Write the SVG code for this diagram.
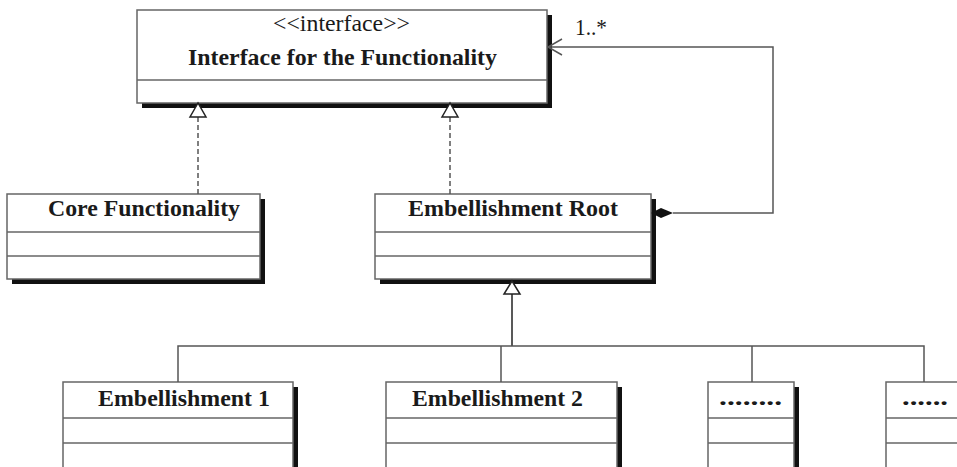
<svg xmlns="http://www.w3.org/2000/svg" width="957" height="467" viewBox="0 0 957 467">
<style>
.box{fill:#fff;stroke:#666;stroke-width:1.5}
.sh{fill:#111}
.div{stroke:#666;stroke-width:1.5}
.t{font-family:"Liberation Serif","Times New Roman",serif;font-size:23px;fill:#1a1a1a}
.b{font-weight:bold}
.ln{fill:none;stroke:#555;stroke-width:1.5}
.dash{stroke-dasharray:5,3}
.tri{fill:#fff;stroke:#222;stroke-width:1.5}
</style>
<rect width="957" height="467" fill="#fff"/>
<g id="interface">
<rect class="sh" x="142" y="15" width="410" height="93"/>
<rect class="box" x="137" y="10" width="410" height="93"/>
<line class="div" x1="137" y1="80" x2="547" y2="80"/>
<text class="t" x="273" y="31" textLength="137" lengthAdjust="spacingAndGlyphs">&lt;&lt;interface&gt;&gt;</text>
<text class="t b" x="188" y="65" textLength="309" lengthAdjust="spacingAndGlyphs">Interface for the Functionality</text>
</g>
<g id="core">
<rect class="sh" x="12" y="199" width="253" height="85"/>
<rect class="box" x="7" y="194" width="253" height="85"/>
<line class="div" x1="7" y1="232" x2="260" y2="232"/>
<line class="div" x1="7" y1="256" x2="260" y2="256"/>
<text class="t b" x="48" y="216" textLength="192" lengthAdjust="spacingAndGlyphs">Core Functionality</text>
</g>
<g id="root">
<rect class="sh" x="380" y="199" width="276" height="85"/>
<rect class="box" x="375" y="194" width="276" height="85"/>
<line class="div" x1="375" y1="232" x2="651" y2="232"/>
<line class="div" x1="375" y1="256" x2="651" y2="256"/>
<text class="t b" x="408" y="216" textLength="210" lengthAdjust="spacingAndGlyphs">Embellishment Root</text>
</g>
<g id="emb1">
<rect class="sh" x="68" y="387" width="230" height="100"/>
<rect class="box" x="63" y="382" width="230" height="100"/>
<line class="div" x1="63" y1="418" x2="293" y2="418"/>
<line class="div" x1="63" y1="443" x2="293" y2="443"/>
<text class="t b" x="98" y="406" textLength="172" lengthAdjust="spacingAndGlyphs">Embellishment 1</text>
</g>
<g id="emb2">
<rect class="sh" x="391" y="387" width="231" height="100"/>
<rect class="box" x="386" y="382" width="231" height="100"/>
<line class="div" x1="386" y1="418" x2="617" y2="418"/>
<line class="div" x1="386" y1="443" x2="617" y2="443"/>
<text class="t b" x="412" y="406" textLength="171" lengthAdjust="spacingAndGlyphs">Embellishment 2</text>
</g>
<g id="emb3">
<rect class="sh" x="713" y="387" width="86" height="100"/>
<rect class="box" x="708" y="382" width="86" height="100"/>
<line class="div" x1="708" y1="418" x2="794" y2="418"/>
<line class="div" x1="708" y1="443" x2="794" y2="443"/>
<text class="t b" x="719" y="405" textLength="63" lengthAdjust="spacingAndGlyphs">........</text>
</g>
<g id="emb4">
<rect class="sh" x="891" y="387" width="100" height="100"/>
<rect class="box" x="886" y="382" width="100" height="100"/>
<line class="div" x1="886" y1="418" x2="986" y2="418"/>
<line class="div" x1="886" y1="443" x2="986" y2="443"/>
<text class="t b" x="902" y="405" textLength="46" lengthAdjust="spacingAndGlyphs">......</text>
</g>
<g id="connectors">
<line class="ln dash" x1="198" y1="117" x2="198" y2="194"/>
<polygon class="tri" points="198,103 190,117 206,117"/>
<line class="ln dash" x1="450" y1="117" x2="450" y2="194"/>
<polygon class="tri" points="450,103 442,117 458,117"/>
<line class="ln" x1="512" y1="294" x2="512" y2="346" style="stroke:#222"/>
<polygon class="tri" points="512,281 504,294 520,294"/>
<polyline class="ln" points="178,382 178,346 924,346 924,382"/>
<line class="ln" x1="501" y1="346" x2="501" y2="382"/>
<line class="ln" x1="752" y1="346" x2="752" y2="382"/>
<polyline class="ln" points="673,213 773,213 773,47 548,47"/>
<polyline class="ln" points="562,39 548,47 562,55"/>
<polygon points="651,213 661,208 673,213 661,218" fill="#111"/>
<text class="t" x="575" y="35" textLength="32" lengthAdjust="spacingAndGlyphs">1..*</text>
</g>
</svg>
